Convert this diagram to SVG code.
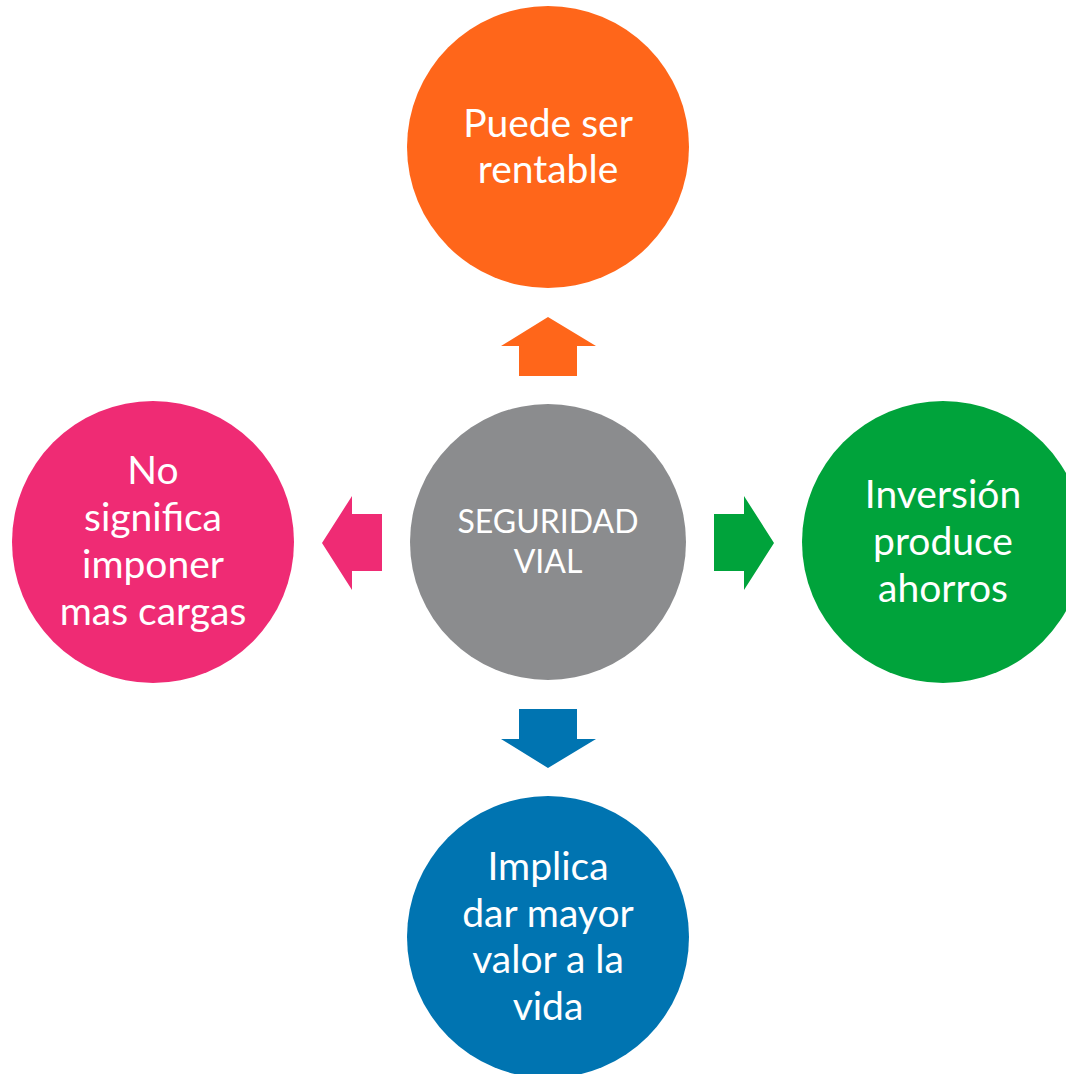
<svg xmlns="http://www.w3.org/2000/svg" width="1066" height="1074" viewBox="0 0 1066 1074">
<style>
.t{font-family:Lato,"Open Sans","Liberation Sans",sans-serif;fill:#fff;text-anchor:middle;font-size:39px}
.c{font-size:32px}
</style>
<rect width="1066" height="1074" fill="#fff"/>
<g id="connectors">
<polygon id="arrow-up" points="548,317 596,346 577,346 577,376 519,376 519,346 501,346" fill="#FF661A"/>
<polygon id="arrow-down" points="548,768 596,739 577,739 577,709 519,709 519,739 501,739" fill="#0074B1"/>
<polygon id="arrow-right" points="774,543 744,496 744,514 714,514 714,571 744,571 744,590" fill="#00A33B"/>
<polygon id="arrow-left" points="322,543 352,496 352,514 382,514 382,571 352,571 352,590" fill="#EF2B74"/>
</g>
<g id="center">
<circle cx="548" cy="542" r="138" fill="#8B8C8E"/>
<text class="t c" x="548" y="533">SEGURIDAD</text>
<text class="t c" x="548" y="573">VIAL</text>
</g>
<g id="top">
<circle cx="548" cy="147" r="141" fill="#FF661A"/>
<text class="t" x="548" y="137">Puede ser</text>
<text class="t" x="548" y="183">rentable</text>
</g>
<g id="right">
<circle cx="943" cy="542" r="141" fill="#00A33B"/>
<text class="t" x="943" y="508">Inversión</text>
<text class="t" x="943" y="555">produce</text>
<text class="t" x="943" y="602">ahorros</text>
</g>
<g id="bottom">
<circle cx="548" cy="937" r="141" fill="#0074B1"/>
<text class="t" x="548" y="880">Implica</text>
<text class="t" x="548" y="927">dar mayor</text>
<text class="t" x="548" y="973">valor a la</text>
<text class="t" x="548" y="1020">vida</text>
</g>
<g id="left">
<circle cx="153" cy="542" r="141" fill="#EF2B74"/>
<text class="t" x="153" y="484">No</text>
<text class="t" x="153" y="531">significa</text>
<text class="t" x="153" y="578">imponer</text>
<text class="t" x="153" y="625">mas cargas</text>
</g>
</svg>
